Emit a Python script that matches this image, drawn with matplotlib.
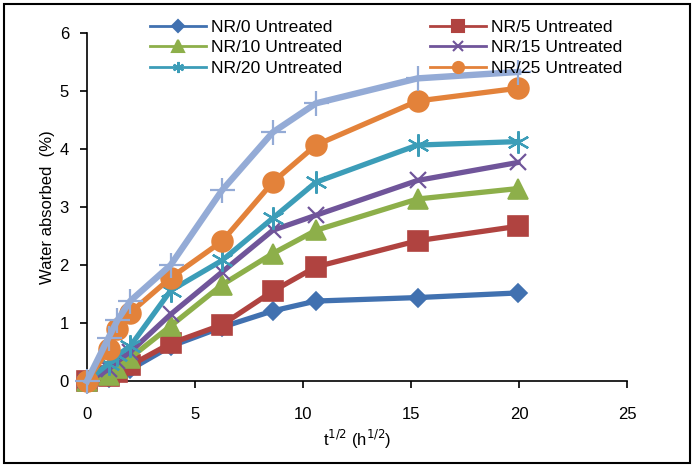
import matplotlib.pyplot as plt
from matplotlib.lines import Line2D
from matplotlib.patches import Rectangle

plt.rcParams['font.family'] = ['Liberation Sans', 'DejaVu Sans']

# square root of time, h^1/2
t_sqrt = [0, 1.0, 1.41, 2.0, 3.87, 6.25, 8.6, 10.6, 15.3, 19.95]

nr0 = [0, 0.05, 0.1, 0.2, 0.6, 0.93, 1.21, 1.38, 1.44, 1.52]
nr5 = [0, 0.08, 0.15, 0.27, 0.65, 0.97, 1.55, 1.97, 2.42, 2.67]
nr10 = [0, 0.1, 0.22, 0.4, 0.95, 1.66, 2.2, 2.6, 3.14, 3.32]
nr15 = [0, 0.2, 0.35, 0.5, 1.15, 1.88, 2.6, 2.86, 3.46, 3.77]
nr20 = [0, 0.3, 0.45, 0.6, 1.56, 2.08, 2.81, 3.43, 4.07, 4.13]
nr25 = [0, 0.55, 0.9, 1.18, 1.78, 2.41, 3.43, 4.07, 4.83, 5.05]
nr_extra = [0, 0.75, 1.05, 1.38, 2.0, 3.29, 4.29, 4.79, 5.22, 5.33]

labels = ['NR/0 Untreated', 'NR/5 Untreated', 'NR/10 Untreated',
          'NR/15 Untreated', 'NR/20 Untreated', 'NR/25 Untreated']

colors = ['#4171B0', '#B04340', '#8DAF4A', '#70559A', '#3C9DB8', '#E3823A', '#94ABD6']
markers = ['D', 's', '^', 'x', (6, 2, 0), 'o', '+']
sizes = [9, 15, 14, 12, 16, 15, 18]
widths = [3.8, 3.8, 3.8, 3.8, 3.8, 3.8, 4.6]
leg_sizes = [6, 8, 8, 7, 8, 8, 8]

fig = plt.figure(figsize=(6.96, 4.67), dpi=100)
ax = fig.add_axes([0.125, 0.184, 0.776, 0.745])

series = [nr0, nr5, nr10, nr15, nr20, nr25, nr_extra]
handles = []
for i, ys in enumerate(series):
    filled = markers[i] not in ('x', '+') and not isinstance(markers[i], tuple)
    ax.plot(t_sqrt, ys, color=colors[i], lw=widths[i], marker=markers[i],
            markersize=sizes[i], markeredgewidth=1.2 if filled else 1.6,
            markerfacecolor=colors[i], markeredgecolor=colors[i],
            zorder=2 + i, clip_on=False)
    if i < 6:
        handles.append(Line2D([], [], color=colors[i], lw=2, marker=markers[i],
                              markersize=leg_sizes[i], markeredgewidth=1.5,
                              markerfacecolor=colors[i], markeredgecolor=colors[i]))

ax.set_xlim(0, 25)
ax.set_ylim(0, 6)
ax.set_xticks([0, 5, 10, 15, 20, 25])
ax.set_yticks([0, 1, 2, 3, 4, 5, 6])
ax.spines['top'].set_visible(False)
ax.spines['right'].set_visible(False)
for s in ('left', 'bottom'):
    ax.spines[s].set_linewidth(1.2)
    ax.spines[s].set_zorder(1)
ax.tick_params(axis='both', direction='out', length=5, width=1.2, labelsize=12)
ax.tick_params(axis='x', pad=14)
ax.tick_params(axis='y', pad=8)
ax.set_xlabel('t$^{1/2}$ (h$^{1/2}$)', fontsize=12, labelpad=4)
ax.set_ylabel('Water absorbed  (%)', fontsize=12, labelpad=3)

order = [0, 2, 4, 1, 3, 5]
fig.legend([handles[k] for k in order], [labels[k] for k in order],
           loc='upper left', bbox_to_anchor=(0.2155, 0.958), ncol=2,
           frameon=False, fontsize=12.6, borderpad=0, borderaxespad=0,
           handlelength=3.2, handletextpad=0.3, columnspacing=5.0,
           labelspacing=0.3)

fig.patches.append(Rectangle((0.006, 0.008), 0.985, 0.983, transform=fig.transFigure,
                             fill=False, edgecolor='black', lw=1.5))

fig.savefig('out.png', dpi=100)
